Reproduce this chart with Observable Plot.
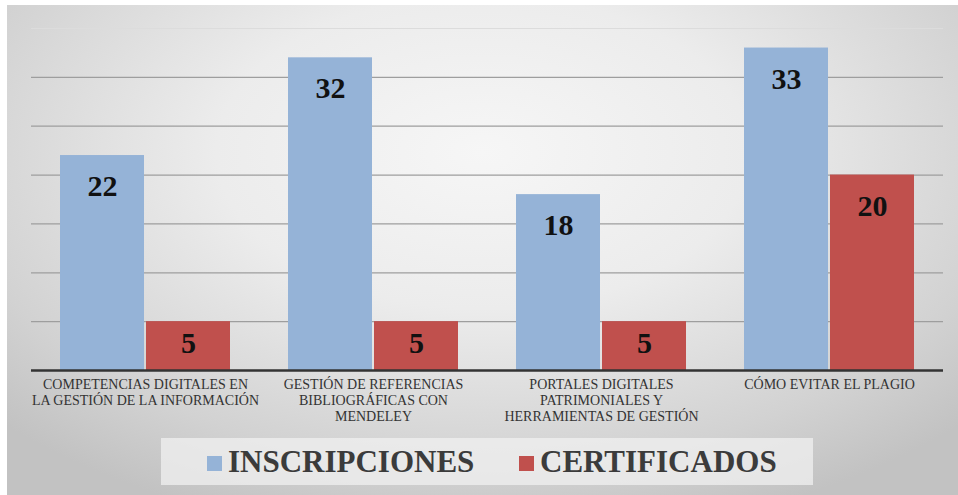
<!DOCTYPE html>
<html>
<head>
<meta charset="utf-8">
<script src="https://cdn.jsdelivr.net/npm/d3@7"></script>
<script src="https://cdn.jsdelivr.net/npm/@observablehq/plot@0.6"></script>
<style>
  html, body { margin: 0; padding: 0; background: #fff; }
  #page { position: relative; width: 958px; height: 495px; overflow: hidden; }
  #bg { position: absolute; left: 7px; top: 5px; width: 951px; height: 490px;
        background: radial-gradient(ellipse 70% 80% at 50% 30%, #f6f6f6 0%, #ececec 40%, #d2d2d2 80%, #c2c2c2 100%); }
  #chart { position: absolute; left: 0; top: 0; }
  #legend { position: absolute; left: 161px; top: 438px; width: 652px; height: 47px;
            background: rgba(240,240,240,0.75);
            font-family: 'Liberation Serif'; font-weight: bold;
            font-size: 31px; color: #3b3b3b; }
  .item { position: absolute; top: 0; height: 47px; display: flex; align-items: center; }
  .sw { width: 15px; height: 15px; margin-right: 6px; margin-top: 4px; }
</style>
</head>
<body>
<div id="page">
  <div id="bg"></div>
  <div id="chart"></div>
  <div id="legend"></div>
</div>
<script>
const categories = [
  "COMPETENCIAS DIGITALES EN\nLA GESTIÓN DE LA INFORMACIÓN",
  "GESTIÓN DE REFERENCIAS\nBIBLIOGRÁFICAS CON\nMENDELEY",
  "PORTALES DIGITALES\nPATRIMONIALES Y\nHERRAMIENTAS DE GESTIÓN",
  "CÓMO EVITAR EL PLAGIO"
];
const series = ["INSCRIPCIONES", "CERTIFICADOS"];
const inscripciones = [22, 32, 18, 33];
const certificados = [5, 5, 5, 20];
const colors = ["#95b3d7", "#c0504d"];
const yTicks = [5, 10, 15, 20, 25, 30];

const data = [];
categories.forEach((c, i) => {
  data.push({cat: c, serie: series[0], value: inscripciones[i]});
  data.push({cat: c, serie: series[1], value: certificados[i]});
});

const serif = "Liberation Serif";

const chart = Plot.plot({
  width: 958,
  height: 430,
  marginLeft: 31,
  marginRight: 15,
  marginTop: 28,
  marginBottom: 60,
  style: {background: "transparent", overflow: "visible", fontFamily: serif},
  fx: {domain: categories, padding: 0, axis: null},
  x: {domain: series, paddingInner: 0.023, paddingOuter: 0.337, axis: null},
  y: {domain: [0, 35], axis: null},
  color: {domain: series, range: colors},
  marks: [
    Plot.ruleY(yTicks, {stroke: "#9e9e9e", strokeWidth: 1.3}),
    Plot.ruleY([35], {stroke: "#dcdcdc", strokeWidth: 1}),
    Plot.barY(data, {fx: "cat", x: "serie", y: "value", fill: "serie"}),
    Plot.ruleY([0], {stroke: "#333", strokeWidth: 2.5}),
    Plot.text(data.filter(d => d.value > 10), {fx: "cat", x: "serie", y: "value", text: d => String(d.value),
      dy: 31, lineAnchor: "middle", fontSize: 30, fontWeight: "bold", fontFamily: serif, fill: "#111"}),
    Plot.text(data.filter(d => d.value <= 10), {fx: "cat", x: "serie", y: "value", text: d => String(d.value),
      dy: 22, lineAnchor: "middle", fontSize: 30, fontWeight: "bold", fontFamily: serif, fill: "#111"}),
    Plot.axisFx({anchor: "bottom", tickSize: 0, tickPadding: 7, label: null, fontSize: 14,
      fontFamily: serif, lineHeight: 1.15, fill: "#333"})
  ]
});
document.getElementById("chart").appendChild(chart);

const legend = document.getElementById("legend");
const lefts = [46, 358];
series.forEach((s, i) => {
  const it = document.createElement("div");
  it.className = "item";
  it.style.left = lefts[i] + "px";
  const sw = document.createElement("div");
  sw.className = "sw";
  sw.style.background = colors[i];
  const t = document.createElement("span");
  t.textContent = s;
  it.appendChild(sw);
  it.appendChild(t);
  legend.appendChild(it);
});
</script>
</body>
</html>
